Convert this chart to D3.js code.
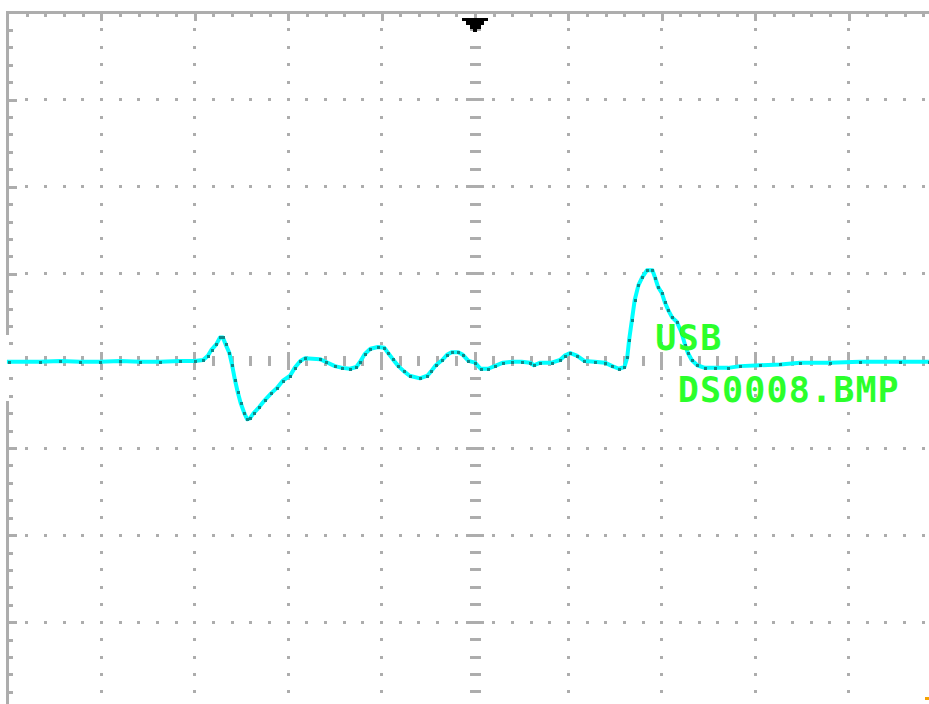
<!DOCTYPE html>
<html><head><meta charset="utf-8">
<script src="https://cdn.jsdelivr.net/npm/d3@7"></script>
<style>html,body{margin:0;padding:0;background:#fff;overflow:hidden}svg{display:block}</style>
</head><body>
<svg id="scope" width="929" height="704"></svg>
<script>
// Captured waveform in screen divisions: time from the left edge, voltage from the centre line
const timeDiv = [0.01,0.34,0.56,0.77,0.99,1.20,1.41,1.63,1.84,2.00,2.09,2.14,2.18,2.23,2.27,2.30,2.33,2.37,2.40,2.43,2.46,2.49,2.53,2.56,2.59,2.63,2.69,2.75,2.82,2.88,2.94,3.02,3.07,3.13,3.18,3.34,3.40,3.50,3.58,3.66,3.73,3.77,3.82,3.88,3.96,4.03,4.07,4.12,4.18,4.24,4.30,4.41,4.49,4.53,4.58,4.65,4.70,4.75,4.82,4.87,4.93,5.00,5.06,5.14,5.21,5.30,5.40,5.50,5.59,5.63,5.70,5.82,5.91,5.96,6.02,6.09,6.17,6.28,6.39,6.47,6.54,6.60,6.63,6.65,6.68,6.71,6.75,6.79,6.84,6.90,6.93,6.96,7.00,7.03,7.07,7.11,7.16,7.21,7.25,7.28,7.32,7.38,7.46,7.57,7.71,7.84,8.05,8.27,8.48,8.80,9.12,9.55,9.86];
const voltDiv = [-0.01,-0.01,0.00,-0.01,-0.01,0.00,-0.01,-0.01,0.00,0.00,0.01,0.06,0.13,0.19,0.27,0.27,0.19,0.09,-0.05,-0.22,-0.36,-0.48,-0.60,-0.67,-0.66,-0.60,-0.53,-0.45,-0.37,-0.31,-0.23,-0.17,-0.08,0.00,0.03,0.02,-0.01,-0.06,-0.08,-0.09,-0.07,-0.01,0.08,0.14,0.16,0.15,0.09,0.02,-0.06,-0.12,-0.17,-0.20,-0.17,-0.12,-0.05,0.01,0.07,0.10,0.10,0.07,0.00,-0.02,-0.09,-0.09,-0.06,-0.02,-0.01,-0.01,-0.02,-0.05,-0.02,-0.02,0.01,0.06,0.09,0.06,0.00,-0.01,-0.02,-0.06,-0.09,-0.07,0.04,0.24,0.47,0.70,0.87,0.96,1.04,1.04,0.95,0.85,0.78,0.68,0.58,0.50,0.45,0.33,0.18,0.09,0.01,-0.05,-0.08,-0.08,-0.08,-0.06,-0.05,-0.04,-0.02,-0.02,-0.01,-0.01,-0.01];

// On-screen text lines and the trigger position (divisions)
const labelLines = ["USB", "DS0008.BMP"];
const triggerTime = 5;

const hDivs = 10, vDivs = 8, subDivs = 5;
const gridColor = "#adadad";

const svg = d3.select("#scope");
const x = d3.scaleLinear().domain([0, hDivs]).range([8, 942]);
const y = d3.scaleLinear().domain([vDivs / 2, -vDivs / 2]).range([12.5, 709.3]);
const R = Math.round;

const grid = svg.append("g").attr("shape-rendering", "crispEdges").attr("fill", gridColor);
const box = (cx, cy, w, h) => grid.append("rect")
  .attr("x", R(cx - w / 2)).attr("y", R(cy - h / 2)).attr("width", w).attr("height", h);

const xMinor = d3.range(0, hDivs * subDivs + 1).map(i => i / subDivs);
const yMinor = d3.range(0, vDivs * subDivs + 1).map(i => vDivs / 2 - i / subDivs);
const isMajor = v => Math.abs(v - Math.round(v)) < 1e-6;

// Frame: top edge and left edge (left edge interrupted around the ground marker)
const x0 = R(x(0));
grid.append("rect").attr("x", x0 - 2).attr("y", R(y(4)) - 2).attr("width", 929 - x0 + 2).attr("height", 3);
grid.append("rect").attr("x", x0 - 2).attr("y", R(y(4)) - 2).attr("width", 3).attr("height", R(y(0.3)) - R(y(4)) + 2);
grid.append("rect").attr("x", x0 - 2).attr("y", R(y(-0.46))).attr("width", 3).attr("height", 704 - R(y(-0.46)));

// Ticks along the top edge
xMinor.filter(t => t > 0).forEach(t => {
  const h = isMajor(t) ? 7 : 3;
  grid.append("rect").attr("x", R(x(t)) - 1).attr("y", R(y(4)) + 1).attr("width", 3).attr("height", h);
});
// Ticks along the left edge
yMinor.filter(v => v < vDivs / 2).forEach(v => {
  const w = isMajor(v) ? 8 : 4;
  grid.append("rect").attr("x", x0 + 1).attr("y", R(y(v)) - 1).attr("width", w).attr("height", 3);
});

// Dotted vertical division lines
d3.range(1, hDivs).filter(k => k !== hDivs / 2).forEach(k => {
  yMinor.filter(v => v < vDivs / 2 && !isMajor(v)).forEach(v => box(x(k), y(v), 3, 3));
});
// Dotted horizontal division lines
d3.range(-vDivs / 2 + 1, vDivs / 2).filter(m => m !== 0).forEach(m => {
  xMinor.filter(t => t > 0).forEach(t => box(x(t), y(m), 3, 3));
});
// Centre cross-hair with graduated ticks
yMinor.filter(v => v < vDivs / 2 && v !== 0).forEach(v => box(x(hDivs / 2), y(v), isMajor(v) ? 18 : 11, 3));
xMinor.filter(t => t > 0).forEach(t => box(x(t), y(0), 3, isMajor(t) ? 18 : 10));

// Trigger position marker
const tx = R(x(triggerTime));
svg.append("path")
  .attr("shape-rendering", "crispEdges")
  .attr("fill", "#000")
  .attr("d", `M${tx-13},18H${tx+13}V21H${tx+9}V25H${tx+6}V29H${tx+2}V32H${tx-2}V29H${tx-5}V25H${tx-9}V21H${tx-13}Z`);

// Waveform trace
const pts = timeDiv.map((t, i) => [t, voltDiv[i]]);
svg.append("path")
  .datum(pts)
  .attr("fill", "none")
  .attr("stroke", "#00ffff")
  .attr("stroke-width", 4)
  .attr("stroke-linejoin", "round")
  .attr("stroke-linecap", "square")
  .attr("d", d3.line().x(d => x(d[0])).y(d => y(d[1])));

// Sample points on the trace
svg.append("g").attr("fill", "#0c8a8a").attr("shape-rendering", "crispEdges")
  .selectAll("rect").data(pts).join("rect")
  .attr("x", d => R(x(d[0])) - 1).attr("y", d => R(y(d[1])) - 1)
  .attr("width", 3).attr("height", 3);

// Save message
const labelPos = [[6.93, 0.13, 66], [7.17, -0.47, 221]];
svg.append("g")
  .attr("font-family", "'DejaVu Sans Mono', monospace")
  .attr("font-size", 35)
  .attr("font-weight", "bold")
  .attr("fill", "#2bff2b")
  .selectAll("text").data(labelLines).join("text")
  .attr("x", (d, i) => x(labelPos[i][0]))
  .attr("y", (d, i) => y(labelPos[i][1]))
  .attr("textLength", (d, i) => labelPos[i][2])
  .attr("lengthAdjust", "spacing")
  .text(d => d);

// Status indicator in the corner
svg.append("rect").attr("x", 925).attr("y", 697).attr("width", 4).attr("height", 3).attr("fill", "#f5a300");
</script>
</body></html>
